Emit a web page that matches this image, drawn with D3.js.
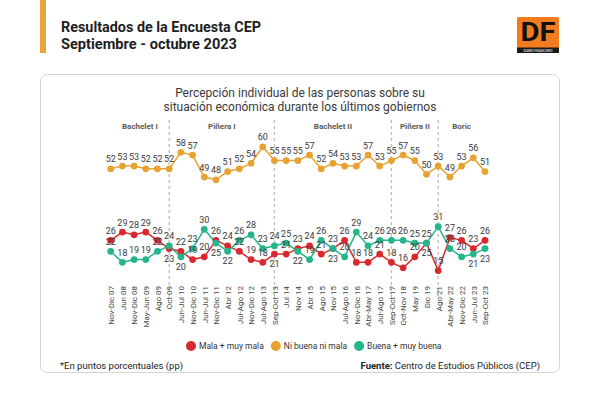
<!DOCTYPE html>
<html><head><meta charset="utf-8">
<script src="https://cdn.jsdelivr.net/npm/d3@7"></script>
<style>
body{margin:0;background:#fff;}
svg{display:block;font-family:Roboto,"Noto Sans",sans-serif;}
</style></head><body>
<svg id="c" width="600" height="400"></svg>
<script>
const categories = ["Nov-Dic 07","Jun 08","Nov-Dic 08","May-Jun 09","Ago 09","Oct 09","Jun-Jul 10","Nov-Dic 10","Jun-Jul 11","Nov-Dic 11","Abr 12","Jul-Ago 12","Nov-Dic 12","Jul-Ago 13","Sep-Oct 13","Jul 14","Nov 14","Abr 15","Ago 15","Nov 15","Jul-Ago 16","Nov-Dic 16","Abr-May 17","Jul-Ago 17","Sep-Oct 17","Oct-Nov 18","May 19","Dic 19","Ago 21","Abr-May 22","Nov-Dic 22","Jun-Jul 23","Sep-Oct 23"];
const mala  = [26,29,28,29,26,23,22,19,20,26,24,22,19,18,21,21,23,24,21,23,26,18,18,21,18,16,20,25,15,27,26,23,26];
const ni    = [52,53,53,52,52,52,58,57,49,48,51,52,54,60,55,55,55,57,52,54,53,53,57,53,55,57,55,50,53,49,53,56,51];
const buena = [22,18,19,19,22,24,20,23,30,25,22,26,28,23,24,25,22,19,26,23,20,29,24,26,26,26,25,25,31,23,20,21,23];
const seriesNames = ["Mala + muy mala","Ni buena ni mala","Buena + muy buena"];
const governments = ["Bachelet I","Piñera I","Bachelet II","Piñera II","Boric"];
const govLast = ["Oct 09","Sep-Oct 13","Sep-Oct 17","Ago 21","Sep-Oct 23"];
const headerLines = ["Resultados de la Encuesta CEP","Septiembre - octubre 2023"];
const chartTitle = ["Percepción individual de las personas sobre su","situación económica durante los últimos gobiernos"];
const footnote = "*En puntos porcentuales (pp)";
const sourceLabel = "Fuente:";
const sourceText = " Centro de Estudios Públicos (CEP)";

const colors = ["#d9292e","#e8a232","#25b58c"];
const svg = d3.select("#c");

// header
svg.append("rect").attr("x",40).attr("y",0).attr("width",6).attr("height",53).attr("fill","#e9a43c");
const hl = [[31.5,200],[48.5,176]];
headerLines.forEach((t,i)=>{
  svg.append("text").attr("x",61).attr("y",hl[i][0]).attr("font-size",15.5).attr("font-weight","bold")
    .attr("fill","#1e1e1e").attr("textLength",hl[i][1]).attr("lengthAdjust","spacingAndGlyphs").text(t);
});
// logo
svg.append("rect").attr("x",517).attr("y",17).attr("width",42).attr("height",36).attr("rx",1.5).attr("fill","#f47b20");
svg.append("rect").attr("x",517).attr("y",47.5).attr("width",42).attr("height",5.5).attr("fill","#1a1a1a");
svg.append("text").attr("x",538).attr("y",41).attr("text-anchor","middle").attr("font-size",26).attr("font-weight","bold")
  .attr("fill","#111").attr("textLength",35).attr("lengthAdjust","spacingAndGlyphs").text("DF");
svg.append("text").attr("x",538).attr("y",51.6).attr("text-anchor","middle").attr("font-size",3.2)
  .attr("fill","#fff").text("DIARIO FINANCIERO");

// card
svg.append("rect").attr("x",40.5).attr("y",74.5).attr("width",519).attr("height",298).attr("rx",7)
  .attr("fill","#fff").attr("stroke","#d4d4d4");

// chart title
chartTitle.forEach((t,i)=>{
  svg.append("text").attr("x",300).attr("y",97+i*14).attr("text-anchor","middle").attr("font-size",12)
    .attr("fill","#3a3a3a").text(t);
});

const x = d3.scalePoint(categories,[110.7,485]);
const y = d3.scaleLinear([15,60],[270.6,146.8]);

// government dividers and labels
let prev = x(categories[0]);
governments.forEach((g,i)=>{
  const xe = x(govLast[i]);
  if(i < governments.length-1){
    svg.append("line").attr("x1",xe).attr("x2",xe).attr("y1",120).attr("y2",300)
      .attr("stroke","#bdbdbd").attr("stroke-width",1.3).attr("stroke-dasharray","3,3");
  }
  svg.append("text").attr("x",(prev+xe)/2).attr("y",129).attr("text-anchor","middle").attr("font-size",8)
    .attr("font-weight","bold").attr("fill","#5a5a5a").text(g);
  prev = xe;
});

// x axis
const ax = svg.append("g").attr("transform","translate(0,286)").call(d3.axisBottom(x).tickSize(0));
ax.select(".domain").remove();
ax.selectAll("text").attr("transform","rotate(-90)").attr("text-anchor","end").attr("x",0).attr("y",0)
  .attr("dy","0.35em").attr("font-size",8).attr("font-family","Roboto,sans-serif").attr("fill","#444");

const allSeries = [mala, ni, buena];
const line = d3.line().x((d,i)=>x(categories[i])).y(d=>y(d));
allSeries.forEach((s,k)=>{
  svg.append("path").datum(s).attr("d",line).attr("fill","none").attr("stroke",colors[k]).attr("stroke-width",1.5);
});
allSeries.forEach((s,k)=>{
  svg.append("g").selectAll("circle").data(s).join("circle")
    .attr("cx",(d,i)=>x(categories[i])).attr("cy",d=>y(d)).attr("r",3.4).attr("fill",colors[k]);
});

// value labels
function labelBelow(k,i){
  if(k===1) return false;
  const me = allSeries[k][i], other = allSeries[k===0?2:0][i];
  if(k===0 && me===other) return true;
  if(k===2 && me===other) return false;
  return me < other && (other-me) < 4;
}
allSeries.forEach((s,k)=>{
  svg.append("g").selectAll("text").data(s).join("text")
    .attr("x",(d,i)=>x(categories[i])).attr("y",(d,i)=> labelBelow(k,i) ? y(d)+13 : y(d)-6.5)
    .attr("text-anchor","middle").attr("font-size",9).attr("fill","#3a3a3a").text(d=>d);
});

// legend
const lg = svg.append("g").attr("transform","translate(0,346)");
let lx = 186;
seriesNames.forEach((n,k)=>{
  lg.append("circle").attr("cx",lx+5).attr("cy",0).attr("r",5).attr("fill",colors[k]);
  const t = lg.append("text").attr("x",lx+13).attr("y",3).attr("font-size",8.5).attr("fill","#333").text(n);
  lx += 13 + t.node().getComputedTextLength() + 7;
});

// footer
svg.append("text").attr("x",60).attr("y",369).attr("font-size",9.5).attr("fill","#222").text(footnote);
const src = svg.append("text").attr("x",540).attr("y",369).attr("text-anchor","end").attr("font-size",9.5).attr("fill","#222");
src.append("tspan").attr("font-weight","bold").text(sourceLabel);
src.append("tspan").text(sourceText);
</script>
</body></html>
